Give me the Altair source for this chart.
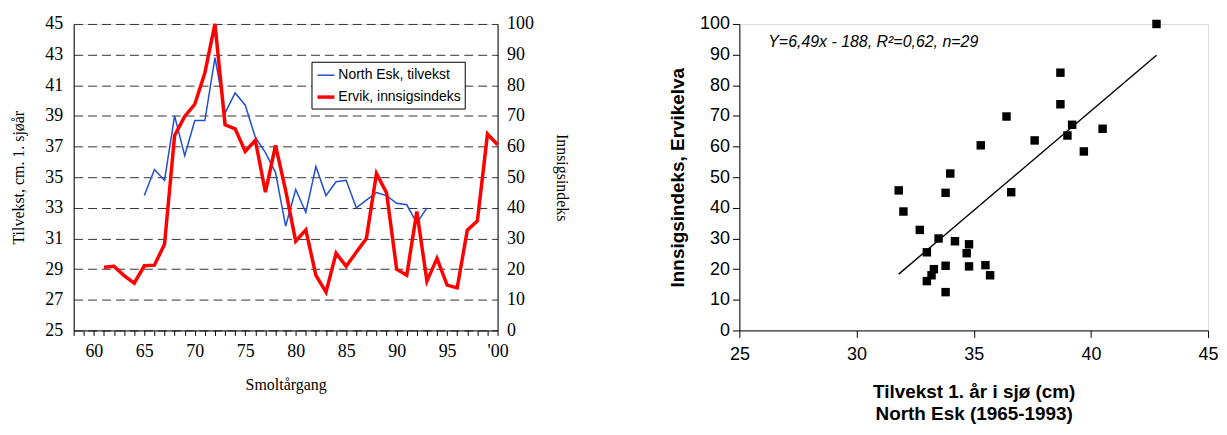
import altair as alt
import pandas as pd

# ---------------- data ----------------
series_names = ["North Esk, tilvekst", "Ervik, innsigsindeks"]

red_years = list(range(1961, 2001))
red_values = [20.6, 20.9, 17.9, 15.4, 21.1, 21.3, 28.1, 63.6, 69.8, 73.8,
              84.1, 100.0, 67.1, 65.8, 58.4, 62.0, 45.1, 60.4, 45.7, 29.1,
              32.8, 18.0, 12.5, 25.2, 20.9, 25.5, 30.0, 51.2, 44.9, 20.0,
              18.0, 38.8, 16.1, 23.5, 14.8, 13.9, 32.7, 35.7, 64.1, 60.6]

blue_years = list(range(1965, 1994))
blue_values = [33.8, 35.5, 34.8, 39.0, 36.4, 38.7, 38.7, 42.8, 39.2, 40.5,
               39.7, 37.6, 36.6, 35.3, 31.8, 34.2, 32.7, 35.7, 33.8, 34.7,
               34.8, 33.0, 33.5, 34.0, 33.8, 33.3, 33.2, 32.0, 33.0]

x_tick_years = list(range(1958, 2001))
x_label_years = [1960, 1965, 1970, 1975, 1980, 1985, 1990, 1995, 2000]
x_label_texts = ["60", "65", "70", "75", "80", "85", "90", "95", "'00"]
left_y_ticks = list(range(25, 46, 2))
right_y_ticks = list(range(0, 101, 10))

scatter_x_ticks = [25, 30, 35, 40, 45]
scatter_y_ticks = list(range(0, 101, 10))
fit_slope = 6.49
fit_intercept = -188.0
eq_text = "Y=6,49x - 188, R²=0,62, n=29"

BLUE = "#1f4fd2"
RED = "#ff0000"
SERIF = "Liberation Serif"
SANS = "Liberation Sans"

# ---------------- left chart ----------------
df_blue = pd.DataFrame({"year": blue_years, "value": blue_values, "series": series_names[0]})
df_red = pd.DataFrame({"year": red_years, "value": red_values, "series": series_names[1]})

label_expr = " : ".join(
    f'datum.value == {y} ? "{t}"' for y, t in zip(x_label_years, x_label_texts)
) + ' : ""'

x_enc = alt.X(
    "year:Q",
    scale=alt.Scale(domain=[1958, 2000], nice=False, zero=False),
    axis=alt.Axis(
        values=x_tick_years, labelExpr=label_expr, title="Smoltårgang",
        tickSize=5, tickColor="black", domainColor="black", grid=False,
        labelFont=SERIF, labelFontSize=18, labelColor="black", labelPadding=7,
        labelOverlap=False, labelFlush=False, labelAngle=0,
        titleFont=SERIF, titleFontSize=16, titleFontWeight="normal",
        titleColor="black", titlePadding=16,
    ),
)

legend_props = dict(
    title=None, orient="none", legendX=239, legendY=38,
    symbolType="stroke", symbolSize=289, labelFont=SANS, labelFontSize=14,
    labelColor="black", strokeColor="black", fillColor="white", padding=4,
    rowPadding=4, labelOffset=2, cornerRadius=0,
)
color_enc = alt.Color(
    "series:N",
    scale=alt.Scale(domain=series_names, range=[BLUE, RED]),
    legend=alt.Legend(**legend_props),
)
sw_enc = alt.StrokeWidth(
    "series:N",
    scale=alt.Scale(domain=series_names, range=[1.5, 3.5]),
    legend=alt.Legend(**legend_props),
)

blue_line = alt.Chart(df_blue).mark_line().encode(
    x=x_enc,
    y=alt.Y(
        "value:Q",
        scale=alt.Scale(domain=[25, 45], nice=False, zero=False),
        axis=alt.Axis(
            orient="left", values=left_y_ticks, title="Tilvekst, cm. 1. sjøår",
            grid=True, gridDash=[9, 5], gridColor="#333333", gridWidth=1,
            ticks=False, domainColor="black",
            labelFont=SERIF, labelFontSize=18, labelColor="black", labelPadding=11,
            titleFont=SERIF, titleFontSize=16, titleFontWeight="normal",
            titleColor="black", titlePadding=18,
        ),
    ),
    color=color_enc,
    strokeWidth=sw_enc,
)

red_line = alt.Chart(df_red).mark_line().encode(
    x=x_enc,
    y=alt.Y(
        "value:Q",
        scale=alt.Scale(domain=[0, 100], nice=False),
        axis=alt.Axis(
            orient="right", values=right_y_ticks, title="Innsigsindeks",
            grid=False, ticks=False, domainColor="black",
            labelFont=SERIF, labelFontSize=18, labelColor="black", labelPadding=9,
            titleFont=SERIF, titleFontSize=16, titleFontWeight="normal",
            titleColor="black", titlePadding=20,
        ),
    ),
    color=color_enc,
    strokeWidth=sw_enc,
)

left = alt.layer(blue_line, red_line).resolve_scale(y="independent").properties(
    width=426, height=308
)

# ---------------- right chart ----------------
scatter_x = blue_values
scatter_y = [v for yr, v in zip(red_years, red_values) if yr in blue_years]
df_sc = pd.DataFrame({"x": scatter_x, "y": scatter_y})

fit_x = [min(scatter_x), max(scatter_x)]
df_fit = pd.DataFrame({"x": fit_x, "y": [fit_slope * v + fit_intercept for v in fit_x]})

sx = alt.X(
    "x:Q",
    scale=alt.Scale(domain=[25, 45], nice=False, zero=False),
    axis=alt.Axis(
        values=scatter_x_ticks, title=["Tilvekst 1. år i sjø (cm)", "North Esk (1965-1993)"],
        tickSize=7, tickColor="black", domainColor="black", grid=False,
        labelFont=SANS, labelFontSize=18, labelColor="black", labelPadding=8,
        labelFlush=False, labelOverlap=False,
        titleFont=SANS, titleFontSize=19, titleFontWeight="bold", titleColor="black",
        titlePadding=19, titleLineHeight=23,
    ),
)
sy = alt.Y(
    "y:Q",
    scale=alt.Scale(domain=[0, 100], nice=False),
    axis=alt.Axis(
        values=scatter_y_ticks, title="Innsigsindeks, Ervikelva",
        tickSize=7, tickColor="black", domainColor="black", grid=False,
        labelFont=SANS, labelFontSize=18, labelColor="black", labelPadding=3,
        labelFlush=False, labelOverlap=False,
        titleFont=SANS, titleFontSize=19, titleFontWeight="bold", titleColor="black",
        titlePadding=12,
    ),
)

points = alt.Chart(df_sc).mark_point(
    shape="square", filled=True, color="black", size=72, opacity=1
).encode(x=sx, y=sy)

fit_line = alt.Chart(df_fit).mark_line(color="black", strokeWidth=1.4).encode(x=sx, y=sy)

eq = alt.Chart(pd.DataFrame({"t": [eq_text]})).mark_text(
    align="left", baseline="middle", font=SANS, fontSize=16, fontStyle="italic",
    color="black",
).encode(x=alt.value(29), y=alt.value(18), text="t:N")

right = alt.layer(fit_line, points, eq).properties(width=471, height=308)

chart = alt.hconcat(left, right, spacing=98).properties(
    padding={"left": 2, "top": 5, "right": 0, "bottom": 0}
).configure_view(stroke=None).configure(background="white")

chart.save("out.html", embed_options={"renderer": "svg", "actions": False})
